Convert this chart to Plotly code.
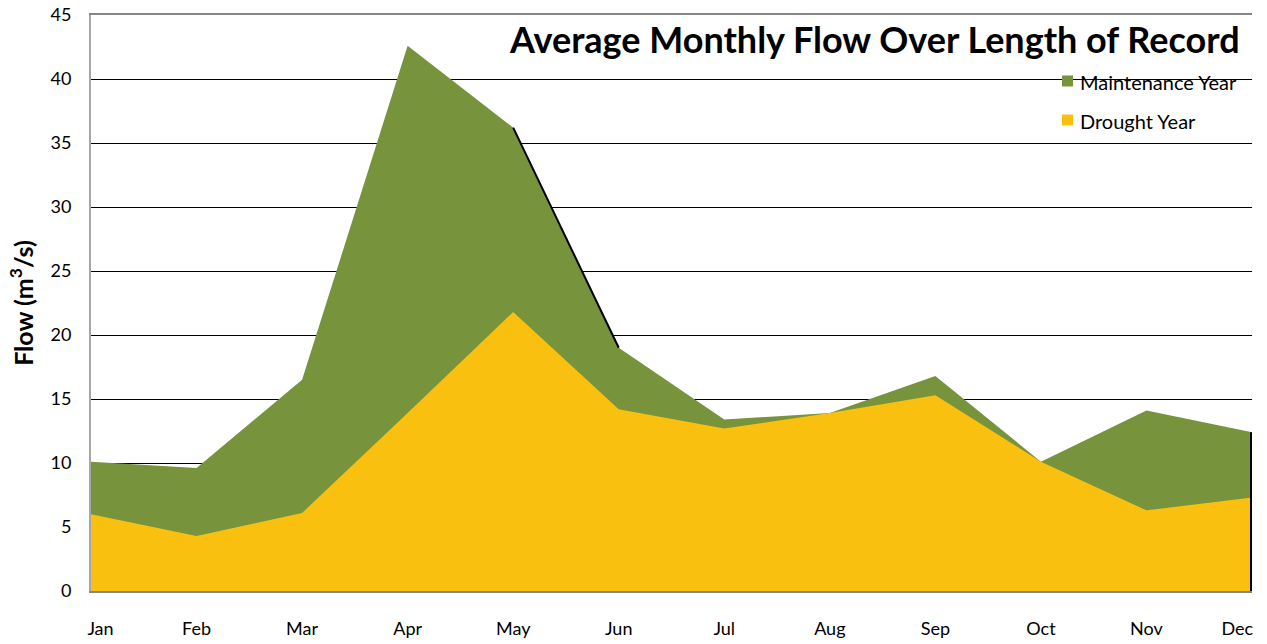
import plotly.graph_objects as go

# Average monthly flow (m3/s)
months = ["Jan", "Feb", "Mar", "Apr", "May", "Jun", "Jul", "Aug", "Sep", "Oct", "Nov", "Dec"]
maintenance_year = [10.1, 9.6, 16.5, 42.6, 36.2, 19.0, 13.4, 13.9, 16.8, 10.1, 14.1, 12.4]
drought_year = [6.0, 4.3, 6.1, 13.9, 21.8, 14.2, 12.7, 13.9, 15.3, 10.1, 6.3, 7.3]
y_ticks = [0, 5, 10, 15, 20, 25, 30, 35, 40, 45]

GREEN = "#77933C"
YELLOW = "#FAC00F"
FONT = "Lato"

x_idx = list(range(len(months)))

fig = go.Figure()

fig.add_trace(go.Scatter(
    x=x_idx, y=maintenance_year, name="Maintenance Year",
    mode="none", fill="tozeroy", fillcolor=GREEN, showlegend=False,
))
fig.add_trace(go.Scatter(
    x=x_idx, y=drought_year, name="Drought Year",
    mode="none", fill="tozeroy", fillcolor=YELLOW, showlegend=False,
))

# dark edge on the May-Jun recession and on the December end of the area
fig.add_trace(go.Scatter(
    x=x_idx[4:6], y=maintenance_year[4:6], mode="lines",
    line=dict(color="#000000", width=2), showlegend=False, hoverinfo="skip",
))
fig.add_trace(go.Scatter(
    x=[x_idx[-1], x_idx[-1]], y=[0, maintenance_year[-1]], mode="lines",
    line=dict(color="#000000", width=4), showlegend=False, hoverinfo="skip",
))

# month labels: first and last nudged inside the plot edges
n = len(months)
tickpos = [i for i in x_idx]
tickpos[0] = 0.09
tickpos[-1] = n - 1 - 0.14

fig.update_xaxes(
    range=[0, n - 1], tickvals=tickpos, ticktext=months,
    showgrid=False, zeroline=False, automargin=False,
    showline=True, linecolor="#868686", linewidth=2, mirror=True,
    ticks="", ticklabelstandoff=20,
    tickfont=dict(family=FONT, size=18, color="#000000"),
)
fig.update_yaxes(
    range=[0, 45], tickvals=y_ticks, automargin=False,
    showgrid=True, gridcolor="#000000", gridwidth=1, zeroline=False,
    showline=True, linecolor="#A6A6A6", linewidth=2,
    ticks="", ticklabelstandoff=14,
    tickfont=dict(family=FONT, size=18, color="#000000"),
    title=dict(text="<b>Flow (m<sup>3</sup>/s)</b>", standoff=10,
               font=dict(family=FONT, size=25, color="#000000")),
)

# plot area geometry in pixels, used to place the legend and title
X0, X1, Y0, Y1 = 91, 1252, 15, 591


def px_x(p):
    return (p - X0) / (X1 - X0)


def px_y(p):
    return (Y1 - p) / (Y1 - Y0)


legend_items = [("Maintenance Year", GREEN, 81), ("Drought Year", YELLOW, 120)]
for label, color, yc in legend_items:
    fig.add_shape(type="rect", xref="paper", yref="paper",
                  x0=px_x(1062), x1=px_x(1073), y0=px_y(yc + 5.5), y1=px_y(yc - 5.5),
                  fillcolor=color, line=dict(width=0))
    fig.add_annotation(xref="paper", yref="paper", x=px_x(1078), y=px_y(yc + 1),
                       xanchor="left", yanchor="middle", showarrow=False, text=label,
                       font=dict(family=FONT, size=20, color="#000000"))

fig.add_annotation(xref="paper", yref="paper", x=px_x(1242), y=px_y(39),
                   xanchor="right", yanchor="middle", showarrow=False,
                   text="<b>Average Monthly Flow Over Length of Record</b>",
                   font=dict(family=FONT, size=36, color="#000000"))

fig.update_layout(
    width=1267, height=644,
    margin=dict(l=X0, r=1267 - X1, t=Y0, b=644 - Y1),
    paper_bgcolor="#FFFFFF", plot_bgcolor="#FFFFFF",
    showlegend=False,
)

fig.write_html("out.html")
